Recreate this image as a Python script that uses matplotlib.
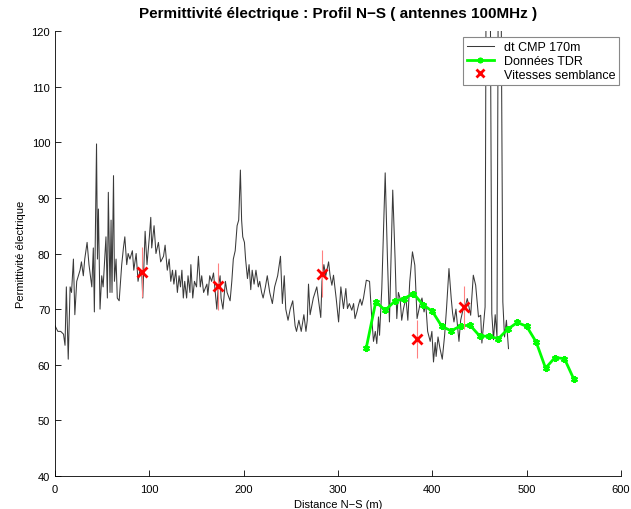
import matplotlib
matplotlib.use("Agg")
import matplotlib.pyplot as plt

plt.rcParams['font.family'] = ['Liberation Sans', 'DejaVu Sans']

# courbe dt CMP 170m (distance en m, permittivite)
dist_cmp = [0, 3, 6, 9, 10.6, 12, 14, 16, 17.5, 19.5, 21, 23, 26.5, 28, 30, 31.5, 34, 36, 39, 40.6,
            41.7, 44, 45, 46, 47.7, 49.5, 51, 54, 55.5, 56.5, 58.3, 59.4, 60.4, 62, 63, 64.7, 66, 68, 70.7, 72.5,
            74, 76, 77.5, 79.4, 82, 83.5, 86, 88, 90, 92, 93, 95.5, 97.5, 100, 101.5, 102.5, 105, 107, 109.6, 112,
            115, 116.7, 119, 121, 122.7, 124.5, 126, 128, 129.7, 131.5, 133, 134.5, 136, 137.5, 139.5, 141, 143, 144, 146, 147.8,
            150, 152, 154, 155.5, 157.5, 161, 162, 164, 166, 168, 171.5, 173, 175, 176, 178, 180.6, 182.4, 185.6, 187.4, 189,
            191, 193, 194.7, 196.5, 197.8, 199, 200.8, 202, 204, 205.7, 207.5, 209, 211, 213, 215.5, 217, 219, 220.6, 223, 225,
            227.6, 230.4, 232.8, 236, 239, 241, 243, 244.6, 247, 249.3, 252, 254.5, 256, 258.5, 261, 263.8, 266, 267.4, 268.7, 270.4,
            273.8, 277.5, 281.7, 283, 285, 287, 290, 291.6, 293.5, 295.2, 298, 300.6, 303, 305.8, 308.3, 310, 312, 314.6, 316.5, 318,
            320, 321.8, 323.5, 325.2, 327, 330, 333.4, 335.9, 337.6, 339.5, 341.1, 342.9, 344, 346.4, 350, 352.4, 354.5, 358, 360.5, 362.3,
            364, 365.8, 367.5, 369.4, 372, 374, 376, 378.9, 381.4, 383.8, 386.7, 389, 391.2, 393, 395, 397.7, 399.5, 401.2, 403, 404,
            406, 408, 410.5, 413, 415, 417.6, 420, 421.5, 422.9, 425, 428.2, 430, 433.5, 435.5, 437, 440.6, 443.4, 445.9, 448.9, 451.2,
            452.5, 455.9, 457.5, 460.5, 463, 464.8, 466.6, 468.5, 470.5, 471.8, 474.7, 476.5, 478.5, 480.7]
eps_cmp = [67, 66, 66, 65.5, 63.5, 74, 61, 74, 73, 79, 69, 75, 77, 78.5, 76, 79, 82, 78, 74, 81,
           69.5, 99.7, 79, 88, 70, 76, 74, 83, 72, 91, 73, 86, 73, 94, 75, 79, 72, 71.5, 78, 81,
           83, 78, 80, 79, 80.5, 77, 80, 75, 77, 76.5, 72, 84, 78, 83, 86.5, 81, 85, 80, 82, 78.5,
           79.5, 81.5, 77, 79, 75, 77, 74.5, 77, 73, 76, 74, 77, 72, 75, 72, 76, 73, 78, 72, 75,
           74, 79.5, 74, 76, 73, 74.5, 72.5, 76, 75, 76.5, 70, 74, 76, 72, 70, 75, 73, 71.5, 75, 79,
           80.5, 85, 86, 95, 86, 83, 82, 79, 75.5, 78, 73.5, 77, 74.5, 77, 74, 75, 73, 72, 74, 76,
           73, 71, 74, 76, 79.5, 71, 76, 70, 68, 70, 71.5, 67, 66, 68, 66, 69, 66, 68, 74.5, 69,
           72, 74, 68.5, 75, 78, 76, 78.5, 76, 74.3, 76.1, 72, 67.7, 74, 70.1, 73.7, 70.1, 71, 69.8, 71, 68.3,
           69.5, 70.8, 71.8, 70.7, 72, 75.2, 75, 68, 64.2, 66, 63.8, 68.6, 65.3, 73.7, 94.5, 79, 67.7, 91.4, 79, 68.3,
           73, 71.9, 68, 70.1, 72, 68, 74.9, 80.3, 77.9, 68.3, 70.7, 72, 69.5, 71, 66, 64.2, 66, 60.5, 64, 61.5,
           65, 63, 61, 65.3, 70.1, 77.3, 71.9, 69.2, 67.7, 70, 64.2, 68, 70.7, 70.9, 71.9, 68.9, 76.1, 74.3, 68.6, 68.9,
           63.9, 70.4, 160, 160, 69.2, 64.5, 69, 65, 160, 160, 71.3, 65, 68, 62.9]

# donnees TDR
dist_tdr = [330, 340, 350, 360, 370, 380, 390, 400, 410, 420, 430, 440,
            450, 460, 470, 480, 490, 500, 510, 520, 530, 540, 550]
eps_tdr = [63.1, 71.3, 69.8, 71.4, 71.9, 72.8, 70.8, 69.6, 66.9, 66.1, 67.0, 67.1,
           65.2, 65.1, 64.7, 66.4, 67.6, 66.9, 64.1, 59.4, 61.3, 61.1, 57.4]

# vitesses semblance
dist_sem = [92, 173, 283, 384, 434]
eps_sem = [76.6, 74.1, 76.4, 64.6, 70.3]
err_sem = [4.5, 4.2, 4.3, 3.4, 3.9]

fig = plt.figure(figsize=(6.31, 5.10), dpi=100)
ax = fig.add_axes([0.0872, 0.0647, 0.897, 0.8725])

ax.plot(dist_cmp, eps_cmp, color='#3a3a3a', lw=0.75, label='dt CMP 170m')
ax.plot(dist_tdr, eps_tdr, color='#00ff00', lw=2, marker=(6, 2, 0), ms=5, mew=1.5,
        label='Données TDR')
ax.errorbar(dist_sem, eps_sem, yerr=err_sem, fmt='none', ecolor='#ff8080', elinewidth=0.8, capsize=0)
ax.plot(dist_sem, eps_sem, ls='none', marker='x', color='red', ms=7, mew=2,
        label='Vitesses semblance')

ax.set_xlim(0, 600)
ax.set_ylim(40, 120)
ax.set_xticks([0, 100, 200, 300, 400, 500, 600])
ax.set_yticks([40, 50, 60, 70, 80, 90, 100, 110, 120])
ax.tick_params(direction='in', labelsize=8, length=4, width=0.6)
ax.tick_params(axis='x', pad=6)
for s in ['top', 'right']:
    ax.spines[s].set_visible(False)
for s in ['left', 'bottom']:
    ax.spines[s].set_linewidth(0.6)

ax.set_title('Permittivité électrique : Profil N\u2212S ( antennes 100MHz )',
             fontsize=11, fontweight='bold', pad=10)
ax.set_xlabel('Distance N\u2212S (m)', fontsize=8, labelpad=3)
ax.set_ylabel('Permittivité électrique', fontsize=8)

leg = ax.legend(loc='upper right', bbox_to_anchor=(0.997, 0.986), fontsize=9, fancybox=False,
                framealpha=1, borderaxespad=0, handlelength=2.2, borderpad=0.3,
                labelspacing=0.15, markerscale=0.8)
leg.get_frame().set_edgecolor('#888888')
leg.get_frame().set_linewidth(0.8)

fig.savefig('out.png', dpi=100)
